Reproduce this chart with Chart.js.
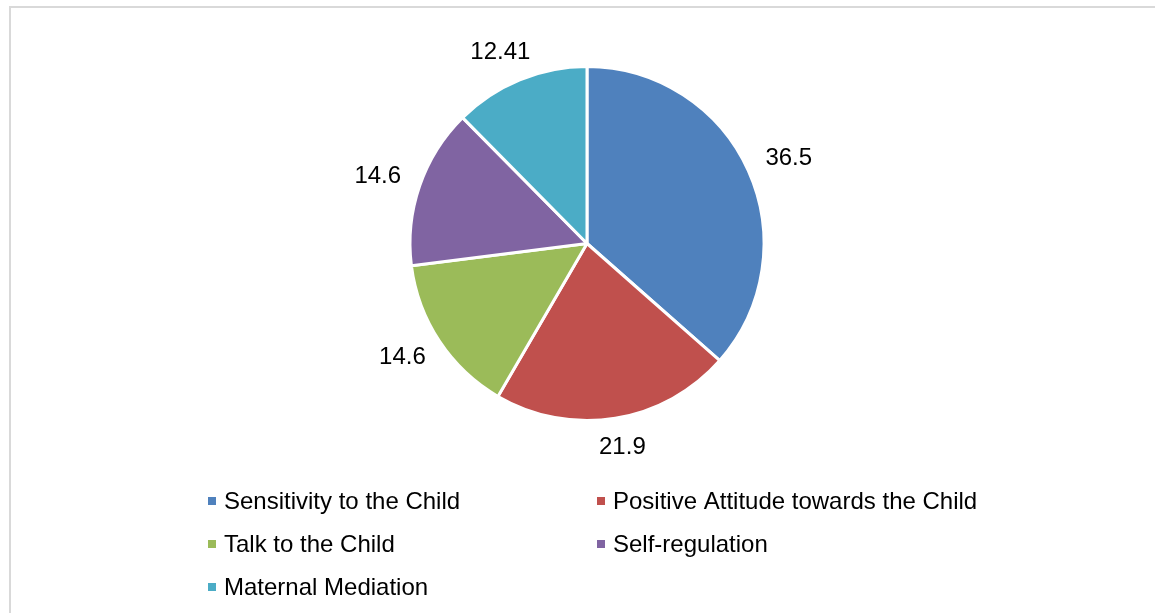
<!DOCTYPE html>
<html>
<head>
<meta charset="utf-8">
<script src="https://cdn.jsdelivr.net/npm/chart.js@4/dist/chart.umd.min.js"></script>
<style>
  html, body { margin: 0; padding: 0; background: #fff; overflow: hidden; }
  #frame {
    position: absolute; left: 9px; top: 6px;
    width: 1200px; height: 700px;
    border: 2px solid #d9d9d9;
  }
  #pieChart { position: absolute; left: 0; top: 0; }
</style>
</head>
<body>
<div id="frame"></div>
<canvas id="pieChart" width="1155" height="613"></canvas>
<script>
const categories = [
  'Sensitivity to the Child',
  'Positive Attitude towards the Child',
  'Talk to the Child',
  'Self-regulation',
  'Maternal Mediation'
];
const values = [36.5, 21.9, 14.6, 14.6, 12.41];
const colors = ['#4f81bd', '#c0504d', '#9bbb59', '#8064a2', '#4bacc6'];

const FONT = '"Liberation Sans", Arial, sans-serif';

// value labels just outside each slice, pushed out along the slice's mid angle
const outsideLabels = {
  id: 'outsideLabels',
  afterDatasetsDraw(chart) {
    const ctx = chart.ctx;
    const meta = chart.getDatasetMeta(0);
    ctx.save();
    ctx.font = '24px ' + FONT;
    ctx.fillStyle = '#000';
    ctx.textAlign = 'center';
    ctx.textBaseline = 'middle';
    meta.data.forEach((arc, i) => {
      const { x, y, startAngle, endAngle, outerRadius } = arc.getProps(['x', 'y', 'startAngle', 'endAngle', 'outerRadius'], true);
      const mid = (startAngle + endAngle) / 2;
      const ux = Math.cos(mid), uy = Math.sin(mid);
      const text = String(values[i]);
      const w = ctx.measureText(text).width;
      const h = 17;
      const r = outerRadius + 21;
      const cx = x + ux * r + ux * w / 2;
      const cy = y + uy * r + uy * h / 2;
      ctx.fillText(text, cx, cy);
    });
    ctx.restore();
  }
};

// two-column legend under the pie
const gridLegend = {
  id: 'gridLegend',
  afterDraw(chart) {
    const ctx = chart.ctx;
    const colX = [208, 597];
    const rowY = 501;
    const rowGap = 43;
    ctx.save();
    ctx.font = '24px ' + FONT;
    ctx.textBaseline = 'middle';
    ctx.textAlign = 'left';
    categories.forEach((name, i) => {
      const x = colX[i % 2];
      const y = rowY + Math.floor(i / 2) * rowGap;
      ctx.fillStyle = colors[i];
      ctx.fillRect(x, y - 4, 8, 8);
      ctx.fillStyle = '#000';
      ctx.fillText(name, x + 16, y + 1);
    });
    ctx.restore();
  }
};

new Chart(document.getElementById('pieChart'), {
  type: 'pie',
  data: {
    labels: categories,
    datasets: [{
      data: values,
      backgroundColor: colors,
      borderColor: '#fff',
      borderWidth: 3,
      hoverBorderWidth: 3
    }]
  },
  options: {
    responsive: false,
    animation: false,
    events: [],
    layout: { padding: { top: 65, bottom: 191, left: 300, right: 281 } },
    plugins: {
      legend: { display: false },
      tooltip: { enabled: false }
    }
  },
  plugins: [outsideLabels, gridLegend]
});
</script>
</body>
</html>
